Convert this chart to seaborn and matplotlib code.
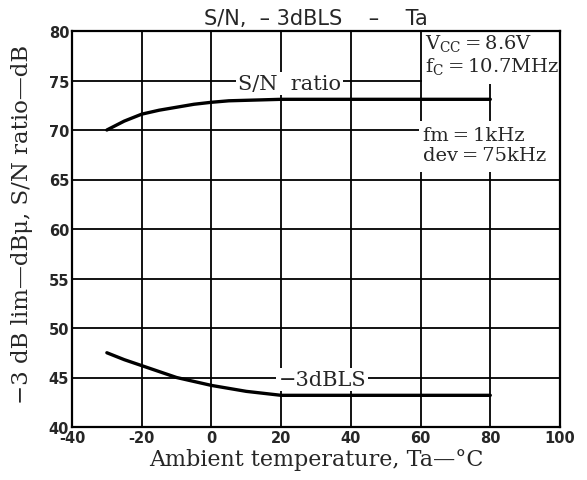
import pandas as pd
import seaborn as sns
import matplotlib.pyplot as plt
from matplotlib.patches import Rectangle

# Valeurs
temp = [-30, -25, -20, -15, -10, -5, 0, 5, 10, 15, 20, 40, 60, 80]
sn_ratio = [70.0, 70.9, 71.6, 72.0, 72.3, 72.6, 72.8, 72.95, 73.0, 73.05, 73.1, 73.1, 73.1, 73.1]
lim_3db = [47.5, 46.8, 46.2, 45.6, 45.0, 44.6, 44.2, 43.9, 43.6, 43.4, 43.2, 43.2, 43.2, 43.2]

x_ticks = [-40, -20, 0, 20, 40, 60, 80, 100]
y_ticks = [40, 45, 50, 55, 60, 65, 70, 75, 80]

df = pd.DataFrame({'temp': temp, 'sn': sn_ratio, 'bls': lim_3db})

sns.set_style('white')
plt.rcParams['mathtext.fontset'] = 'dejavuserif'
plt.rcParams['axes.unicode_minus'] = False
serif = 'DejaVu Serif'
ts = '\u2009'  # espace fine

fig = plt.figure(figsize=(5.87, 4.81), dpi=100)
ax = fig.add_axes([72 / 587, 53 / 481, 488 / 587, 396 / 481])

# grille
ax.set_xlim(-40, 100)
ax.set_ylim(40, 80)
ax.set_xticks(x_ticks)
ax.set_yticks(y_ticks)
ax.grid(True, color='black', lw=1.3, zorder=0.5)
ax.set_axisbelow(True)

# zones blanches derriere les annotations
ax.add_patch(Rectangle((60.5, 74.6), 39.2, 5.4, facecolor='white', edgecolor='none', zorder=2))
ax.add_patch(Rectangle((59.5, 65.8), 40.2, 5.1, facecolor='white', edgecolor='none', zorder=2))

sns.lineplot(data=df, x='temp', y='sn', color='black', lw=2.4, ax=ax, zorder=3)
sns.lineplot(data=df, x='temp', y='bls', color='black', lw=2.4, ax=ax, zorder=3)

box = dict(facecolor='white', edgecolor='none', pad=1.5)
ax.text(22.5, 74.7, 'S/N  ratio', family=serif, fontsize=15, ha='center', va='center',
        bbox=box, zorder=2.5)
ax.text(31.8, 44.8, '−3dBLS', family=serif, fontsize=15, ha='center', va='center',
        bbox=box, zorder=2.5)
ax.text(61.2, 79.9, r'V$_{\rm CC}$' + ts + '=' + ts + '8.6V' + '\n' + r'f$_{\rm C}$' + ts + '=' + ts + '10.7MHz',
        family=serif, fontsize=14, ha='left', va='top', linespacing=1.1, zorder=4)
ax.text(60.8, 70.4, 'fm' + ts + '=' + ts + '1kHz\ndev' + ts + '=' + ts + '75kHz', family=serif,
        fontsize=14, ha='left', va='top', linespacing=1.15, zorder=4)

ax.set_title('S/N,  – 3dBLS    –    Ta', fontsize=15, pad=5)
ax.set_xlabel('Ambient temperature, Ta—°C', family=serif, fontsize=16)
ax.set_ylabel('−3 dB lim—dBμ, S/N ratio—dB', family=serif, fontsize=16.5)
ax.xaxis.set_label_coords(0.5, -0.052)
ax.yaxis.set_label_coords(-0.08, 0.513)

ax.tick_params(length=0, pad=2, labelsize=10.5)
for lab in ax.get_xticklabels() + ax.get_yticklabels():
    lab.set_fontweight('bold')

for s in ax.spines.values():
    s.set_color('black')
    s.set_linewidth(1.6)

plt.savefig('out.png', dpi=100)
